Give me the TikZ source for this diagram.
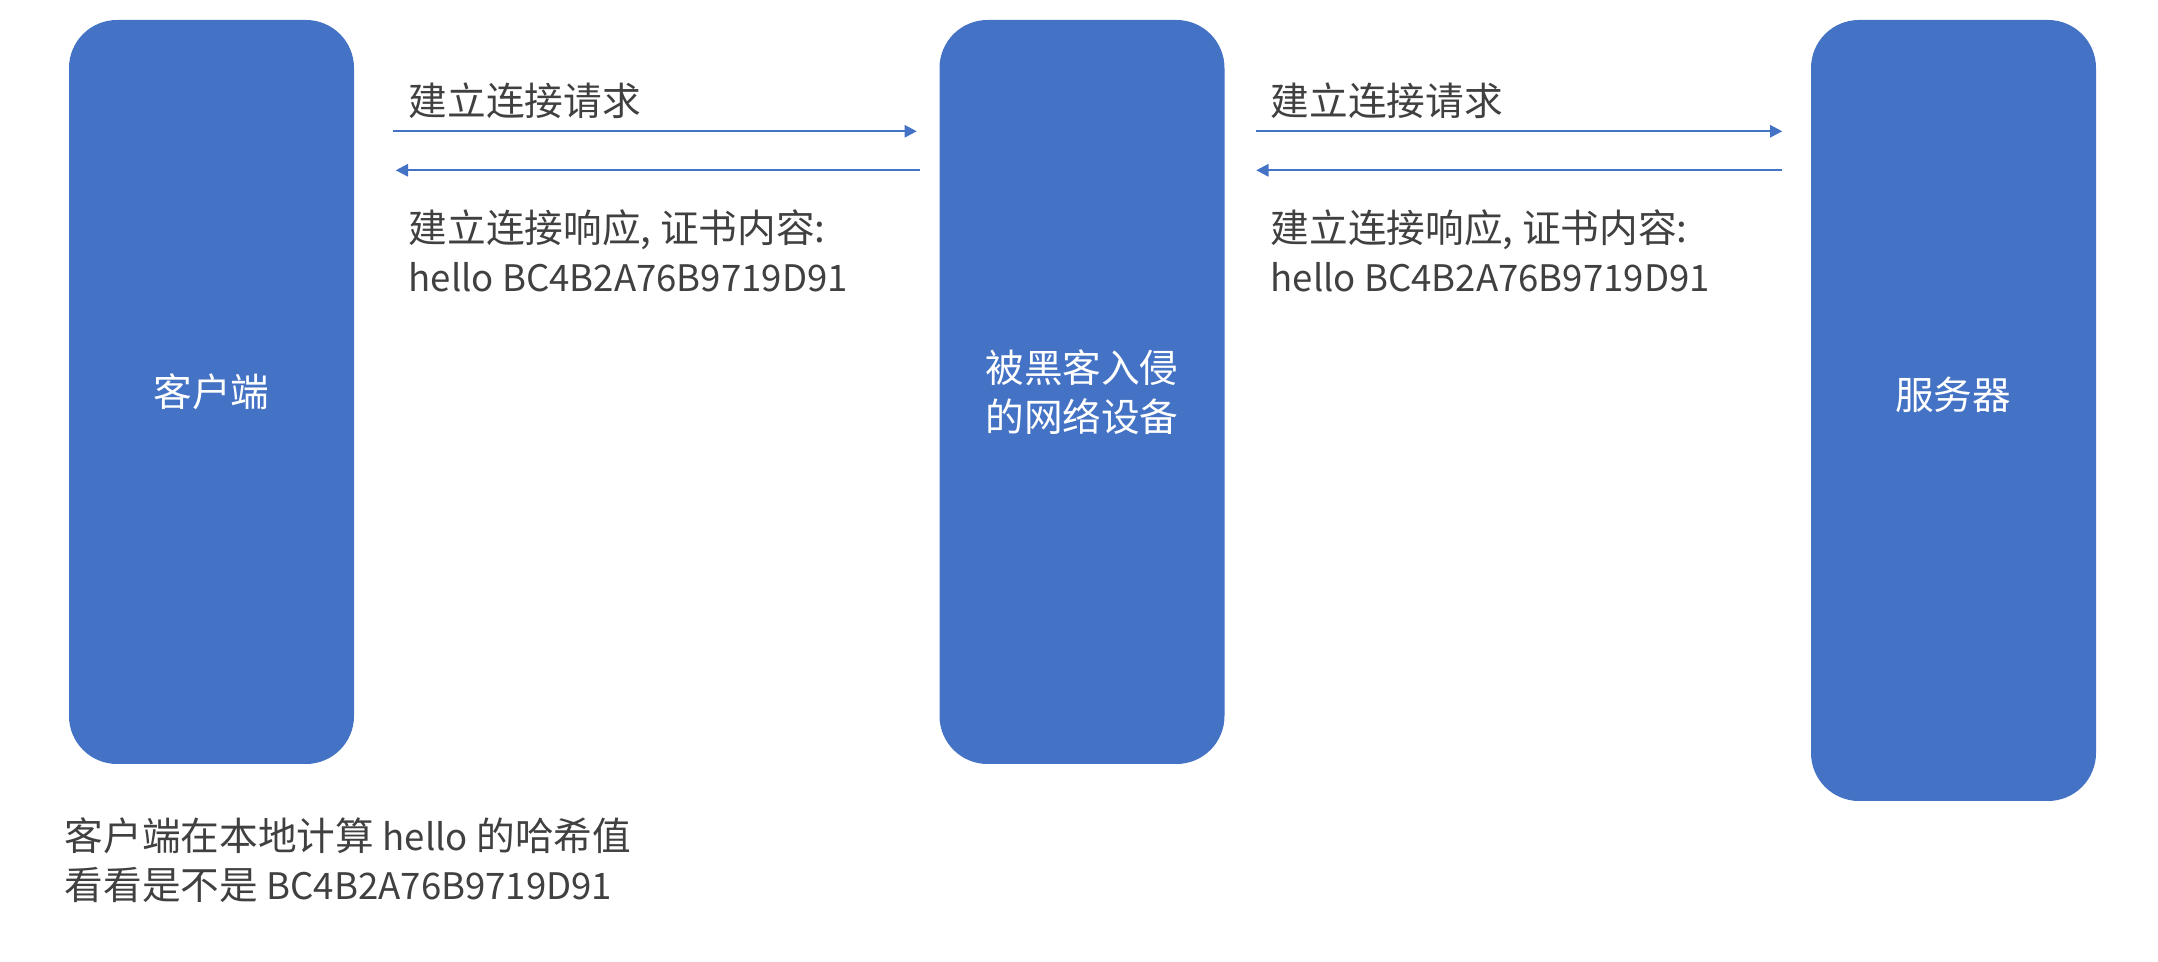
\documentclass[tikz,border=0pt]{standalone}
\usepackage{fontspec}
\setmainfont{Noto Sans CJK SC}
\usetikzlibrary{arrows.meta}
\definecolor{boxblue}{HTML}{4472C4}
\definecolor{txtgray}{HTML}{404040}
\newcommand{\latn}[1]{{\fontsize{10.4}{14}\selectfont #1}}

\begin{document}
\begin{tikzpicture}[
  hostbox/.style={fill=boxblue, rounded corners=0.48cm, inner sep=0pt, minimum width=2.85cm,
    text=white, font=\fontsize{11}{14}\selectfont, align=center},
  msg/.style={boxblue, line width=0.6pt, -{Triangle[length=3.5pt,width=3.5pt]}},
  msgtext/.style={text=txtgray, font=\fontsize{11}{14}\selectfont, align=left, anchor=west, inner sep=0pt}
]
\useasboundingbox (0,0) rectangle (21.58,-9.62);
% the three hosts
\node[hostbox, minimum height=7.44cm] (client) at (2.115,-3.92) {客户端};
\node[hostbox, minimum height=7.44cm] (hacked) at (10.82,-3.92) {被黑客入侵\\的网络设备};
\node[hostbox, minimum height=7.81cm] (server) at (19.535,-4.105) {};
\node[text=white, font=\fontsize{11}{14}\selectfont] (srvname) at (19.53,-3.95) {服务器};
% client <-> hacked device
\draw[msg] ([shift={(0.38,-1.12)}]client.north east) -- ([shift={(-0.22,-1.12)}]hacked.north west);
\draw[msg] ([shift={(-0.19,-1.51)}]hacked.north west) -- ([shift={(0.41,-1.51)}]client.north east);
\node[msgtext] (reqa) at (4.08,-1.01) {建立连接请求};
\node[msgtext] (respa) at (4.08,-2.505) {建立连接响应, 证书内容:\\\latn{hello BC4B2A76B9719D91}};
% hacked device <-> server
\draw[msg] ([shift={(0.31,-1.12)}]hacked.north east) -- ([shift={(-0.28,-1.12)}]server.north west);
\draw[msg] ([shift={(-0.28,-1.51)}]server.north west) -- ([shift={(0.31,-1.51)}]hacked.north east);
\node[msgtext] (reqb) at (12.70,-1.01) {建立连接请求};
\node[msgtext] (respb) at (12.70,-2.505) {建立连接响应, 证书内容:\\\latn{hello BC4B2A76B9719D91}};
% check done by the client
\node[msgtext] (check) at (0.64,-8.60) {客户端在本地计算 \latn{hello} 的哈希值\\看看是不是 \latn{BC4B2A76B9719D91}};
\end{tikzpicture}
\end{document}
